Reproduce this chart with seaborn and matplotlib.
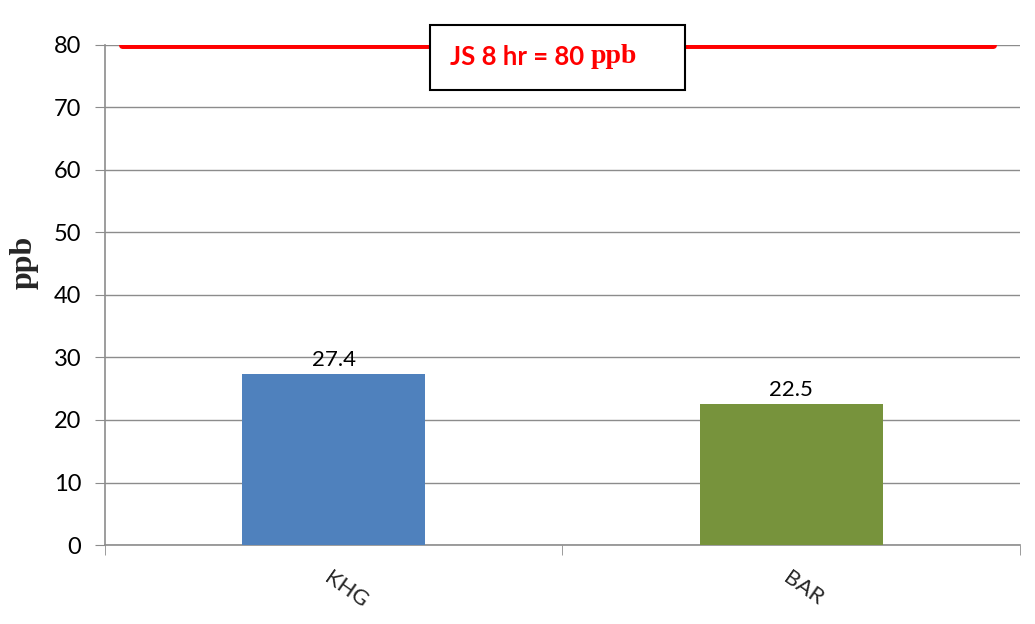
import matplotlib
matplotlib.use("Agg")
import matplotlib.pyplot as plt
import matplotlib.transforms as mtransforms
from matplotlib.patches import Rectangle
import pandas as pd
import seaborn as sns

# chart data
sites = ["KHG", "BAR"]
ppb = [27.4, 22.5]
bar_colors = ["#4F81BD", "#77933C"]
standard = 80
y_ticks = [0, 10, 20, 30, 40, 50, 60, 70, 80]

df = pd.DataFrame({"site": sites, "ppb": ppb})

sns.set_style("white")
plt.rcParams["font.family"] = ["Lato", "DejaVu Sans"]

fig = plt.figure(figsize=(10.35, 6.24), dpi=100)
ax = fig.add_axes([0.1014, 0.1266, 0.8841, 0.8013])

sns.barplot(data=df, x="site", y="ppb", hue="site", palette=bar_colors,
            width=0.4, saturation=1, linewidth=0, legend=False, ax=ax, zorder=3)

for c in ax.containers:
    ax.bar_label(c, fmt="%.1f", padding=3, fontsize=16, color="black")

# standard line
ax.axhline(standard, xmin=0.019, xmax=0.9705, color="#FF0000", lw=5, zorder=4)

ax.set_xlim(-0.5, 1.5)
ax.set_ylim(0, 80)
ax.set_yticks(y_ticks)
ax.yaxis.grid(True, color="#8C8C8C", lw=1)
ax.set_axisbelow(True)

for s in ["top", "right"]:
    ax.spines[s].set_visible(False)
for s in ["left", "bottom"]:
    ax.spines[s].set_color("#8C8C8C")
    ax.spines[s].set_linewidth(1.2)

ax.tick_params(axis="y", which="major", direction="out", length=7, color="#8C8C8C",
               labelsize=17, labelcolor="black", left=True, pad=10)
ax.set_xticks([-0.5, 0.5, 1.5], minor=True)
ax.tick_params(axis="x", which="minor", direction="out", length=7, color="#8C8C8C", bottom=True)
ax.tick_params(axis="x", which="major", length=0, labelsize=16, pad=18)
shift = mtransforms.ScaledTranslation(12 / 100, 2 / 100, fig.dpi_scale_trans)
for lab in ax.get_xticklabels():
    lab.set_rotation(-35)
    lab.set_ha("center")
    lab.set_transform(lab.get_transform() + shift)

ax.set_xlabel("")
ax.set_ylabel("ppb", fontsize=23, fontweight="bold", family="Liberation Serif")
ax.yaxis.set_label_coords(-0.072, 0.566)

# annotation box
fig.patches.append(Rectangle((0.4155, 0.8558), 0.2464, 0.1042, transform=fig.transFigure,
                             facecolor="white", edgecolor="black", lw=1.5, zorder=10))
t1 = fig.text(0.4348, 0.909, "JS 8 hr = 80 ", color="#FF0000", fontsize=18.5,
              fontweight="bold", va="center", ha="left", zorder=11)
fig.canvas.draw()
bb = t1.get_window_extent()
x_end = fig.transFigure.inverted().transform((bb.x1, 0))[0]
fig.text(x_end, 0.909, "ppb", color="#FF0000", fontsize=20, fontweight="bold",
         family="Liberation Serif", va="center", ha="left", zorder=11)

fig.savefig("out.png", dpi=100)
